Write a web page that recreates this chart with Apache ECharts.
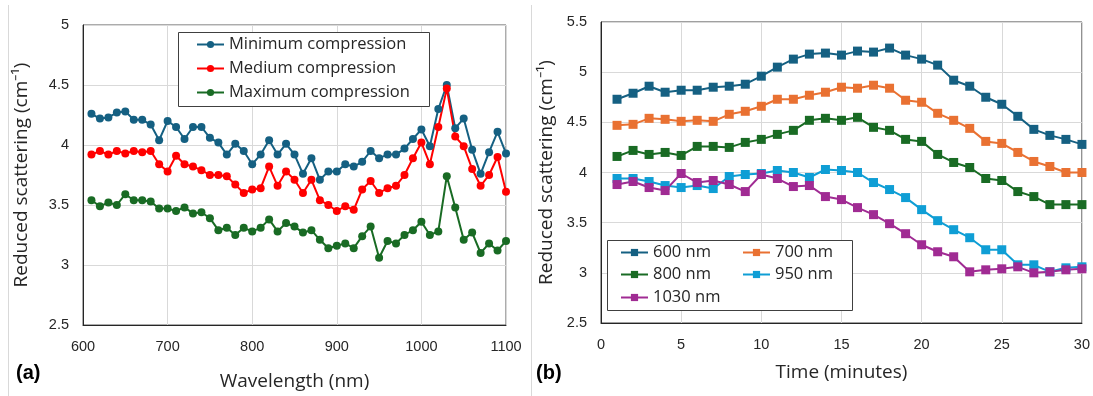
<!DOCTYPE html>
<html>
<head>
<meta charset="utf-8">
<script src="https://cdn.jsdelivr.net/npm/echarts@6/dist/echarts.min.js"></script>
<style>
html,body{margin:0;padding:0;background:#fff;}
#chart{width:1093px;height:396px;}
</style>
</head>
<body>
<div id="chart"></div>
<script>
// ---- Panel (a) data ----
const wavelengths = [610,620,630,640,650,660,670,680,690,700,710,720,730,740,750,760,770,780,790,800,810,820,830,840,850,860,870,880,890,900,910,920,930,940,950,960,970,980,990,1000,1010,1020,1030,1040,1050,1060,1070,1080,1090,1100];
const minCompression = [4.26,4.22,4.23,4.27,4.28,4.21,4.21,4.17,4.04,4.20,4.15,4.05,4.15,4.15,4.06,4.02,3.92,4.01,3.95,3.84,3.92,4.04,3.92,4.01,3.92,3.76,3.89,3.71,3.78,3.78,3.84,3.82,3.86,3.95,3.89,3.92,3.92,3.97,4.05,4.13,3.99,4.30,4.50,4.14,4.22,3.96,3.76,3.94,4.11,3.93];
const medCompression = [3.92,3.95,3.92,3.95,3.93,3.95,3.94,3.95,3.84,3.78,3.91,3.84,3.82,3.79,3.75,3.75,3.74,3.67,3.60,3.63,3.64,3.82,3.66,3.78,3.71,3.60,3.71,3.54,3.50,3.45,3.49,3.46,3.63,3.70,3.60,3.64,3.66,3.75,3.89,4.02,3.84,4.15,4.47,4.07,3.99,3.80,3.66,3.75,3.90,3.61];
const maxCompression = [3.54,3.49,3.52,3.50,3.59,3.54,3.54,3.53,3.47,3.47,3.45,3.48,3.43,3.44,3.39,3.29,3.31,3.25,3.31,3.28,3.31,3.38,3.28,3.35,3.32,3.27,3.29,3.21,3.14,3.16,3.18,3.14,3.24,3.32,3.06,3.20,3.18,3.25,3.29,3.36,3.25,3.28,3.74,3.48,3.21,3.27,3.10,3.18,3.12,3.20];
const namesA = ['Minimum compression','Medium compression','Maximum compression'];

// ---- Panel (b) data ----
const times = [1,2,3,4,5,6,7,8,9,10,11,12,13,14,15,16,17,18,19,20,21,22,23,24,25,26,27,28,29,30];
const nm600 = [4.73,4.79,4.86,4.80,4.82,4.82,4.85,4.86,4.88,4.96,5.05,5.13,5.18,5.19,5.17,5.21,5.20,5.24,5.17,5.13,5.07,4.92,4.86,4.75,4.68,4.56,4.43,4.37,4.33,4.28];
const nm700 = [4.47,4.48,4.54,4.53,4.51,4.52,4.51,4.58,4.61,4.66,4.73,4.73,4.77,4.80,4.85,4.84,4.87,4.84,4.72,4.70,4.59,4.52,4.44,4.31,4.29,4.20,4.11,4.06,4.00,4.00];
const nm800 = [4.16,4.22,4.18,4.20,4.17,4.26,4.26,4.25,4.30,4.33,4.38,4.42,4.52,4.54,4.52,4.55,4.45,4.42,4.33,4.31,4.18,4.10,4.05,3.94,3.92,3.81,3.76,3.68,3.68,3.68];
const nm950 = [3.94,3.94,3.91,3.87,3.85,3.87,3.84,3.96,3.98,3.99,4.02,4.00,3.95,4.03,4.02,4.00,3.90,3.83,3.75,3.63,3.52,3.43,3.35,3.23,3.23,3.08,3.08,3.01,3.05,3.06];
const nm1030 = [3.88,3.91,3.85,3.82,3.99,3.90,3.92,3.88,3.81,3.98,3.94,3.86,3.87,3.76,3.73,3.65,3.58,3.49,3.39,3.28,3.21,3.16,3.01,3.03,3.04,3.06,3.00,3.01,3.03,3.04];
const namesB = ['600 nm','700 nm','800 nm','950 nm','1030 nm'];

// ---- Axis ticks ----
const xTicksA = {min:600, max:1100, interval:100};
const yTicksA = {min:2.5, max:5, interval:0.5};
const xTicksB = {min:0, max:30, interval:5};
const yTicksB = {min:2.5, max:5.5, interval:0.5};

const colorsA = ['#156082','#ff0000','#196b24'];
const colorsB = ['#156082','#e97132','#196b24','#0f9ed5','#a02b93'];

const pair = (xs, ys) => xs.map((x,i)=>[x, ys[i]]);
const tickFont = {fontFamily:'Liberation Sans, Arial', fontSize:14.5, color:'#262626'};
const nameFont = {fontFamily:'Open Sans', fontSize:19, color:'#262626'};
const legendFont = {fontFamily:'Open Sans', fontSize:16.5, color:'#262626'};

function xAx(t, gi, name, gap){
  return {type:'value', gridIndex:gi, min:t.min, max:t.max, interval:t.interval,
    name:name, nameLocation:'middle', nameGap:gap, nameTextStyle:nameFont,
    axisLine:{show:true, lineStyle:{color:'#262626', width:1}},
    axisTick:{show:false}, axisLabel:Object.assign({margin:14, formatter:v=>String(v)}, tickFont),
    splitLine:{show:true, lineStyle:{color:'#d9d9d9', width:1}}};
}
function yAx(t, gi, gap){
  return {type:'value', gridIndex:gi, min:t.min, max:t.max, interval:t.interval,
    name:'Reduced scattering (cm\u207B\u00B9)', nameLocation:'middle', nameGap:gap, nameTextStyle:nameFont,
    axisLine:{show:true, lineStyle:{color:'#262626', width:1}},
    axisTick:{show:false}, axisLabel:Object.assign({margin:14, formatter:v=>String(v)}, tickFont),
    splitLine:{show:true, lineStyle:{color:'#d9d9d9', width:1}}};
}

const series = [];
[minCompression, medCompression, maxCompression].forEach((ys,i)=>{
  series.push({name:namesA[i], type:'line', xAxisIndex:0, yAxisIndex:0, data:pair(wavelengths, ys),
    symbol:'circle', symbolSize:8, color:colorsA[i], lineStyle:{width:2, color:colorsA[i]},
    itemStyle:{color:colorsA[i]}, animation:false});
});
[nm600, nm700, nm800, nm950, nm1030].forEach((ys,i)=>{
  series.push({name:namesB[i], type:'line', xAxisIndex:1, yAxisIndex:1, data:pair(times, ys),
    symbol:'rect', symbolSize:9, color:colorsB[i], lineStyle:{width:2, color:colorsB[i]},
    itemStyle:{color:colorsB[i]}, animation:false});
});

function leg(name, left, cy){
  return {data:[name], left:left, top:cy-8, padding:0, itemWidth:27, itemHeight:9, itemGap:3, z:10,
    textStyle:legendFont, selectedMode:false};
}
const legends = [
  leg(namesA[0],196,44), leg(namesA[1],196,68), leg(namesA[2],196,92),
  leg(namesB[0],620,252), leg(namesB[1],742,252), leg(namesB[2],620,274), leg(namesB[3],742,274), leg(namesB[4],620,297)
];

const chart = echarts.init(document.getElementById('chart'), null, {renderer:'canvas'});
chart.setOption({
  animation:false,
  backgroundColor:'#ffffff',
  grid:[
    {left:83, top:25, width:423, height:305, show:true, borderColor:'#595959', borderWidth:1, backgroundColor:'transparent'},
    {left:601, top:22, width:483, height:301, show:true, borderColor:'#404040', borderWidth:1, backgroundColor:'transparent'}
  ],
  xAxis:[xAx(xTicksA,0,'Wavelength (nm)',47), xAx(xTicksB,1,'Time (minutes)',40)],
  yAxis:[yAx(yTicksA,0,52), yAx(yTicksB,1,45)],
  legend:legends,
  series:series,
  graphic:[
    {type:'line', shape:{x1:8.5,y1:5,x2:8.5,y2:396}, style:{stroke:'#d9d9d9', lineWidth:1}, silent:true},
    {type:'line', shape:{x1:531.5,y1:5,x2:531.5,y2:396}, style:{stroke:'#d9d9d9', lineWidth:1}, silent:true},
    {type:'rect', shape:{x:178.5,y:32.5,width:251,height:74}, style:{fill:'#fff', stroke:'#404040', lineWidth:1}, z:3},
    {type:'rect', shape:{x:607.5,y:240.5,width:245,height:70}, style:{fill:'#fff', stroke:'#404040', lineWidth:1}, z:3},
    {type:'text', left:16, top:363, style:{text:'(a)', font:'bold 20px "Liberation Sans", Arial', fill:'#000'}},
    {type:'text', left:536, top:363, style:{text:'(b)', font:'bold 20px "Liberation Sans", Arial', fill:'#000'}}
  ]
});
</script>
</body>
</html>
